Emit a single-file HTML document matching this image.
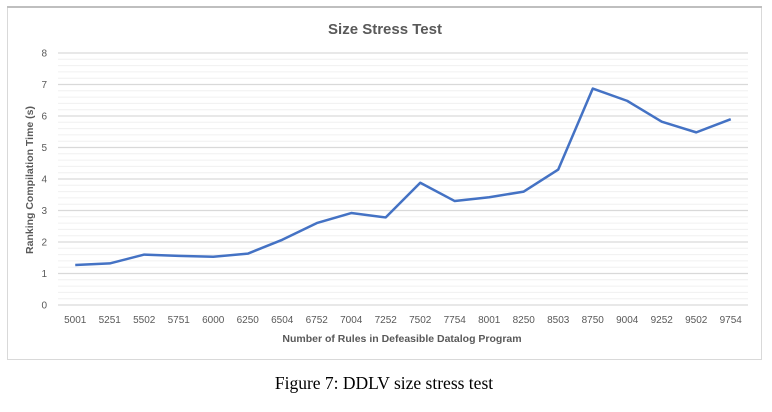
<!DOCTYPE html>
<html><head><meta charset="utf-8"><style>
body{margin:0;background:#fff;width:772px;height:407px;overflow:hidden;font-family:"Liberation Sans",sans-serif}
</style></head><body>
<svg width="772" height="407">
<rect x="7.5" y="7.5" width="754" height="352" fill="#fff" stroke="#d9d9d9"/>
<line x1="7" y1="7" x2="762" y2="7" stroke="#bfbfbf" stroke-width="2"/>
<text x="385" y="34" text-anchor="middle" font-size="15" font-weight="bold" fill="#595959">Size Stress Test</text>
<g id="grid"></g><g id="yt"></g><g id="xt"></g>
<path id="line" fill="none" stroke="#4472c4" stroke-width="2.5" stroke-linejoin="round"/>
<text transform="translate(33,180) rotate(-90)" text-anchor="middle" font-size="10.5" font-weight="bold" fill="#595959">Ranking Compilation Time (s)</text>
<text x="402" y="342" text-anchor="middle" font-size="10.5" font-weight="bold" fill="#595959">Number of Rules in Defeasible Datalog Program</text>
<text x="384" y="389" text-anchor="middle" font-size="17.5" font-family="Liberation Serif,serif" fill="#000">Figure 7: DDLV size stress test</text>
</svg>
<script>
const categories=["5001","5251","5502","5751","6000","6250","6504","6752","7004","7252","7502","7754","8001","8250","8503","8750","9004","9252","9502","9754"];
const values=[1.27,1.32,1.6,1.56,1.53,1.63,2.07,2.6,2.92,2.78,3.88,3.3,3.42,3.6,4.3,6.87,6.48,5.82,5.48,5.9];
const yTicks=[0,1,2,3,4,5,6,7,8];
const L=58,R=748,Y0=305,Y8=53;
const step=(R-L)/categories.length;
const x=i=>L+step*(i+0.5);
const y=v=>Y0-(Y0-Y8)*v/8;
const ns="http://www.w3.org/2000/svg";
const g=document.getElementById('grid'),yt=document.getElementById('yt'),xt=document.getElementById('xt');
for(let k=0;k<=40;k++){const v=k*0.2;const l=document.createElementNS(ns,'line');
l.setAttribute('x1',L);l.setAttribute('x2',R);l.setAttribute('y1',y(v));l.setAttribute('y2',y(v));
const major=k%5===0;l.setAttribute('stroke',major?'#d9d9d9':'#f0f0f0');l.setAttribute('stroke-width',major?1.2:1);

g.appendChild(l);}
yTicks.forEach(v=>{const t=document.createElementNS(ns,'text');t.setAttribute('x',47);t.setAttribute('y',y(v)+3.5);
t.setAttribute('text-anchor','end');t.setAttribute('font-size','10');t.setAttribute('fill','#595959');t.textContent=v;

yt.appendChild(t);});
categories.forEach((c,i)=>{const t=document.createElementNS(ns,'text');t.setAttribute('x',x(i));t.setAttribute('y',323);
t.setAttribute('text-anchor','middle');t.setAttribute('font-size','10');t.setAttribute('fill','#595959');t.textContent=c;

xt.appendChild(t);});
document.getElementById('line').setAttribute('d',values.map((v,i)=>(i?'L':'M')+x(i)+','+y(v)).join(''));
</script>
</body></html>
